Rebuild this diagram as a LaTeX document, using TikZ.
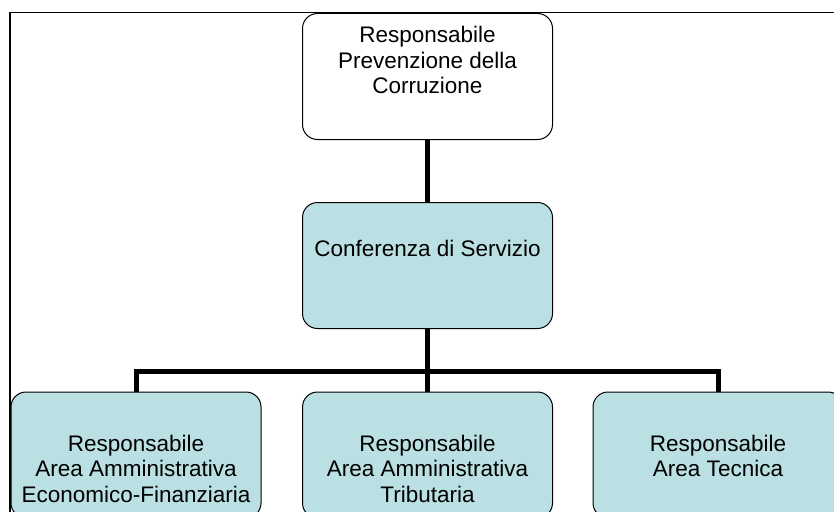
\documentclass[tikz,border=0pt]{standalone}
\usepackage{fontspec}
\setmainfont{Liberation Sans}
\usetikzlibrary{positioning}
\definecolor{boxblue}{RGB}{187,224,227}

\begin{document}
\begin{tikzpicture}[x=1pt,y=-1pt,
    box/.style={draw,line width=1pt,rounded corners=15pt,minimum width=250pt,minimum height=126pt,inner sep=0pt},
    txt/.style={align=center,inner sep=0pt,font=\fontsize{22.5}{25.5}\selectfont},
    conn/.style={line width=5pt}]
  \clip (0,0) rectangle (834,511);
  \fill[white] (0,0) rectangle (834,511);
  \draw[line width=1.6pt] (10,520) -- (10,12.5) -- (840,12.5);
  \node[box,fill=white] (rpc) at (427.5,76.5) {};
  \node[box,fill=boxblue] (conf) at (427.5,265.5) {};
  \node[box,fill=boxblue] (aef) at (136,455) {};
  \node[box,fill=boxblue] (aat) at (427.5,455) {};
  \node[box,fill=boxblue] (at) at (718,455) {};
  \node[txt,below=13pt of rpc.north] (rpc-t) {Responsabile\\Prevenzione della\\Corruzione};
  \node[txt,below=37.5pt of conf.north] (conf-t) {Conferenza di Servizio};
  \node[txt,below=43pt of aef.north] (aef-t) {Responsabile\\Area Amministrativa\\Economico-Finanziaria};
  \node[txt,below=43pt of aat.north] (aat-t) {Responsabile\\Area Amministrativa\\Tributaria};
  \node[txt,below=43pt of at.north] (at-t) {Responsabile\\Area Tecnica};
  \coordinate (bus) at (427.5,371);
  \draw[conn] (rpc.south) -- (conf.north);
  \draw[conn] (conf.south) -- (aat.north);
  \draw[conn] (aef.north) |- (bus) -| (at.north);
\end{tikzpicture}
\end{document}
